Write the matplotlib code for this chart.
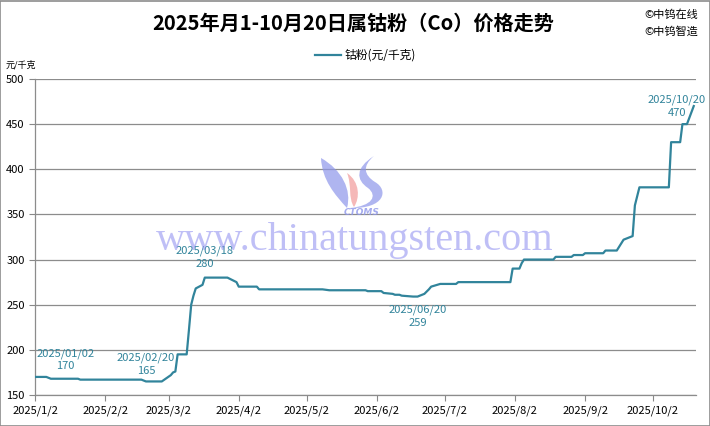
import pandas as pd
import matplotlib
matplotlib.use("Agg")
import matplotlib.pyplot as plt
from matplotlib.path import Path
from matplotlib.patches import PathPatch, Rectangle

plt.rcParams['font.family'] = ['Noto Sans CJK SC', 'DejaVu Sans']

# change points of the cobalt powder price (yuan/kg)
dates = ["2025-01-02", "2025-01-07", "2025-01-09", "2025-01-21", "2025-01-22",
         "2025-02-18", "2025-02-20", "2025-02-27", "2025-03-03", "2025-03-04",
         "2025-03-05", "2025-03-06", "2025-03-10", "2025-03-11", "2025-03-12",
         "2025-03-13", "2025-03-14", "2025-03-17", "2025-03-18", "2025-03-28",
         "2025-04-01", "2025-04-02", "2025-04-10", "2025-04-11", "2025-05-09",
         "2025-05-12", "2025-05-28", "2025-05-29", "2025-06-04", "2025-06-05",
         "2025-06-09", "2025-06-10", "2025-06-12", "2025-06-13", "2025-06-18",
         "2025-06-20", "2025-06-23", "2025-06-25", "2025-06-26", "2025-06-30",
         "2025-07-07", "2025-07-08", "2025-07-31", "2025-08-01", "2025-08-04",
         "2025-08-05", "2025-08-06", "2025-08-19", "2025-08-20", "2025-08-27",
         "2025-08-28", "2025-09-01", "2025-09-02", "2025-09-10", "2025-09-11",
         "2025-09-16", "2025-09-17", "2025-09-18", "2025-09-19", "2025-09-22",
         "2025-09-23", "2025-09-24", "2025-09-26", "2025-10-09", "2025-10-10",
         "2025-10-14", "2025-10-15", "2025-10-17", "2025-10-20"]
prices = [170, 170, 168, 168, 167,
          167, 165, 165, 172, 175,
          176, 195, 195, 222, 250,
          260, 268, 272, 280, 280,
          275, 270, 270, 267, 267,
          266, 266, 265, 265, 263,
          262, 261, 261, 260, 259,
          259, 262, 267, 270, 273,
          273, 275, 275, 290, 290,
          296, 300, 300, 303, 303,
          305, 305, 307, 307, 310,
          310, 314, 318, 322, 325,
          326, 360, 380, 380, 430,
          430, 450, 450, 470]

# labelled points
ann_dates = ["2025-01-02", "2025-02-20", "2025-03-18", "2025-06-20", "2025-10-20"]
ann_values = [170, 165, 280, 259, 470]

x = pd.to_datetime(dates)
teal = '#31849B'

fig = plt.figure(figsize=(7.1, 4.26), dpi=100)
ax = fig.add_axes([0.0493, 0.0728, 0.9310, 0.7418])

# watermark
fig.text(0.5, 0.435, "www.chinatungsten.com", family=['Liberation Serif', 'DejaVu Serif'],
         fontsize=29, color='#8c8cf0', alpha=0.55, ha='center', va='center', zorder=0)

def px(xp, yp):
    return (xp / 710.0, 1 - yp / 426.0)

C = Path.CURVE4
logo = [
    # left blue flame
    ([(321, 158), (322, 180), (335, 195), (347, 208),
      (352, 190), (342, 170), (321, 158)],
     [Path.MOVETO, C, C, C, C, C, C], '#8e96ea'),
    # right blue S flame
    ([(374, 156), (355, 168), (356, 180), (368, 188),
      (378, 196), (372, 206), (350, 208),
      (385, 209), (389, 190), (375, 182), (364, 175), (362, 166), (374, 156)],
     [Path.MOVETO, C, C, C, C, C, C, C, C, C, C, C, C], '#8e96ea'),
    # red flame
    ([(347, 173), (360, 182), (360, 198), (354, 207),
      (348, 198), (352, 185), (347, 173)],
     [Path.MOVETO, C, C, C, C, C, C], '#f29a9a'),
]
for pts, codes, col in logo:
    path = Path([px(*p) for p in pts], codes)
    fig.patches.append(PathPatch(path, transform=fig.transFigure, facecolor=col,
                                 edgecolor='none', alpha=0.7, zorder=0))
fig.text(362 / 710, 1 - 212 / 426, "CTOMS", fontsize=6.5, style='italic', weight='bold',
         color='#8e96ea', alpha=0.8, ha='center', va='center', family='DejaVu Sans')

ax.plot(x, prices, color=teal, lw=1.6, label="钴粉(元/千克)", zorder=3)

ax.set_xlim(pd.Timestamp("2025-01-02"), pd.Timestamp("2025-10-21"))
ax.set_ylim(150, 500)
ax.set_yticks(range(150, 501, 50))
ticks = pd.to_datetime(["2025-%02d-02" % m for m in range(1, 11)])
ax.set_xticks(ticks)
ax.set_xticklabels(["2025/%d/2" % m for m in range(1, 11)])
ax.tick_params(labelsize=8, colors='#888888', labelcolor='black', length=4, width=0.8)
ax.grid(axis='y', color='#8c8c8c', lw=0.9)
ax.set_axisbelow(True)
ax.patch.set_alpha(0)
for s in ['top', 'right']:
    ax.spines[s].set_visible(False)
for s in ['left', 'bottom']:
    ax.spines[s].set_color('#8c8c8c')
    ax.spines[s].set_linewidth(0.9)

offsets = {"2025-01-02": (22, 4, 'bottom'), "2025-02-20": (0, 4, 'bottom'),
           "2025-03-18": (0, 6, 'bottom'), "2025-06-20": (0, -6, 'top'),
           "2025-10-20": (-12, 0, 'center')}
for d, v in zip(ann_dates, ann_values):
    label = "%s/%s/%s" % (d[:4], d[5:7], d[8:])
    dx, dy, va = offsets[d]
    ax.annotate(label + "\n" + str(v), (pd.Timestamp(d), v), xytext=(dx, dy),
                textcoords='offset points', ha='center', va=va, fontsize=8,
                color=teal, linespacing=1.35, annotation_clip=False)

fig.text(0.497, 0.946, "2025年月1-10月20日属钴粉（Co）价格走势", ha='center', va='center',
         fontsize=14.5, weight='bold')
fig.text(0.908, 0.965, "©中钨在线", fontsize=8, ha='left', va='center')
fig.text(0.908, 0.925, "©中钨智造", fontsize=8, ha='left', va='center')
fig.text(0.008, 0.848, "元/千克", fontsize=6.5, ha='left', va='center')

ax.legend(loc='center', bbox_to_anchor=(0.5, 1.075), frameon=False, fontsize=8.5,
          handlelength=2.2, handletextpad=0.3)

fig.patches.append(Rectangle((0.0007, 0.001), 0.9986, 0.997, transform=fig.transFigure,
                             fill=False, edgecolor='#8c8c8c', lw=1.2))

fig.savefig("out.png", dpi=100)
